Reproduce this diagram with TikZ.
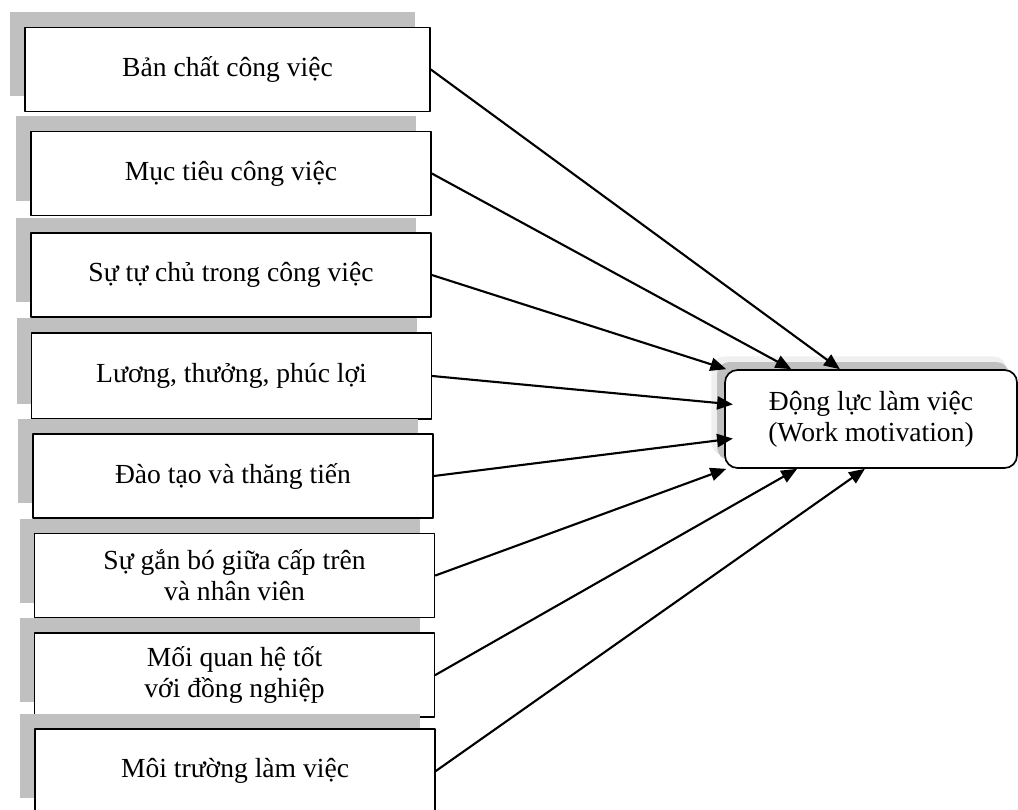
\documentclass[tikz,border=0pt]{standalone}
\usepackage{fontspec}
\setmainfont{Liberation Serif}
\usetikzlibrary{arrows.meta}
\usetikzlibrary{shadows}

\definecolor{shadowgray}{RGB}{192,192,192}

\tikzset{
  factor/.style={draw, line width=0.95pt, fill=white, minimum width=8cm,
    minimum height=1.68cm, align=center, inner sep=2pt,
    font=\fontsize{15.7}{17.5}\selectfont,
    drop shadow={shadow xshift=-0.3cm, shadow yshift=0.3cm, fill=shadowgray, opacity=1}},
  outcome/.style={draw, line width=0.95pt, fill=white, rounded corners=0.25cm,
    minimum width=5.84cm, minimum height=1.96cm, align=center,
    font=\fontsize{15.7}{17.5}\selectfont,
    drop shadow={shadow xshift=-0.24cm, shadow yshift=0.26cm, shadow scale=1.01, fill=gray!12, opacity=1},
    drop shadow={shadow xshift=-0.16cm, shadow yshift=0.16cm, fill=shadowgray, opacity=1}},
  link/.style={line width=1.2pt, ->}
}

\begin{document}
\begin{tikzpicture}[line cap=round,line join=round,>={Triangle[length=9pt,width=7.5pt]},x=1cm,y=1cm]
\useasboundingbox (0,0) rectangle (20.36,16.18);
%\draw[help lines] (0,0) grid (20,16);
\node[factor, minimum width=8.1cm] (bc) at (4.55,14.79) {Bản chất công việc};
\node[factor] (mt) at (4.62,12.71) {Mục tiêu công việc};
\node[factor] (tc) at (4.62,10.68) {Sự tự chủ trong công việc};
\node[factor, minimum height=1.72cm] (lt) at (4.63,8.66) {Lương, thưởng, phúc lợi};
\node[factor] (dt) at (4.66,6.66) {Đào tạo và thăng tiến};
\node[factor] (gb) at (4.69,4.67) {Sự gắn bó giữa cấp trên\\và nhân viên};
\node[factor] (qh) at (4.69,2.68) {Mối quan hệ tốt\\với đồng nghiệp};
\node[factor] (mtr) at (4.70,0.76) {Môi trường làm việc};
% dependent variable
\node[outcome] (dl) at (17.42,7.80) {Động lực làm việc\\(Work motivation)};
% hypotheses
\draw[link] (bc.east) -- (dl.122);
\draw[link] (mt.east) -- (dl.148);
\draw[link] (tc.east) -- (dl.161);
\draw[link, shorten >=-5pt] (lt.east) -- (dl.174);
\draw[link, shorten >=-5pt] (dt.east) -- (dl.188);
\draw[link] (gb.east) -- (dl.199);
\draw[link] (qh.east) -- (dl.214);
\draw[link] (mtr.east) -- (dl.263);
\end{tikzpicture}
\end{document}
